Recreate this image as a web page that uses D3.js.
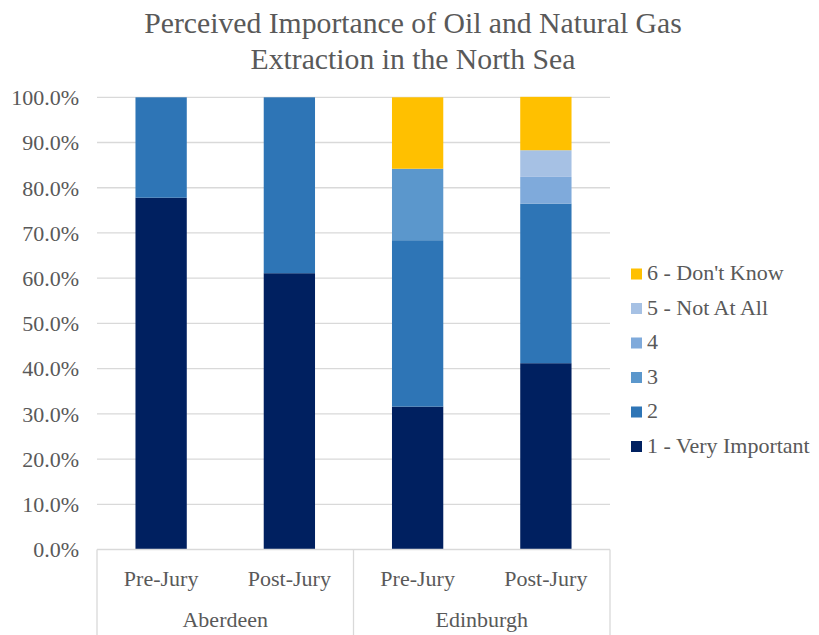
<!DOCTYPE html>
<html><head><meta charset="utf-8">
<script src="https://cdn.jsdelivr.net/npm/d3@7"></script>
<style>body{margin:0;background:#fff}svg{display:block}</style>
</head><body>
<svg id="c" width="819" height="635"></svg>
<script>
const groups = ["Aberdeen","Aberdeen","Edinburgh","Edinburgh"];
const phases = ["Pre-Jury","Post-Jury","Pre-Jury","Post-Jury"];
const seriesNames = ["1 - Very Important","2","3","4","5 - Not At All","6 - Don't Know"];
const s1 = [77.8, 61.1, 31.6, 41.2];
const s2 = [22.2, 38.9, 36.8, 35.3];
const s3 = [0, 0, 15.8, 0];
const s4 = [0, 0, 0, 5.9];
const s5 = [0, 0, 0, 5.9];
const s6 = [0, 0, 15.8, 11.8];
const colors = ["#002060","#2E75B6","#5B97CC","#7FAADB","#A6C1E4","#FFC000"];
const yTicks = [0,10,20,30,40,50,60,70,80,90,100];

const svg = d3.select("#c");
const font = "'Liberation Serif','Times New Roman',serif";
const txt = "#595959";
const L = 97, R = 610, T = 97.3, B = 549.5;

const keys = phases.map((p,i)=>i);
const x = d3.scaleBand().domain(keys).range([L,R]).paddingInner(0.6).paddingOuter(0.3);
const y = d3.scaleLinear().domain([0,100]).range([B,T]);

// gridlines
svg.append("g").selectAll("line").data(yTicks.slice(1)).join("line")
  .attr("x1",L).attr("x2",R).attr("y1",d=>y(d)).attr("y2",d=>y(d))
  .attr("stroke","#d9d9d9").attr("stroke-width",1.3);

// y axis labels
const yAxis = d3.axisLeft(y).tickValues(yTicks).tickFormat(d=>d.toFixed(1)+"%").tickSize(0).tickPadding(18);
const ya = svg.append("g").attr("transform",`translate(${L},0)`).call(yAxis);
ya.select(".domain").remove();
ya.selectAll("text").attr("font-family",font).attr("font-size",22).attr("fill",txt).attr("dy","0.33em");

// stacked data
const all = [s1,s2,s3,s4,s5,s6];
const rows = keys.map(i=>{const o={i}; all.forEach((s,k)=>o[k]=s[i]); return o;});
const stack = d3.stack().keys(d3.range(6))(rows);
svg.append("g").selectAll("g").data(stack).join("g").attr("fill",(d,k)=>colors[k])
  .selectAll("rect").data(d=>d).join("rect")
  .attr("x",d=>x(d.data.i)).attr("width",x.bandwidth())
  .attr("y",d=>y(d[1])).attr("height",d=>Math.max(0,y(d[0])-y(d[1])));

// category axis with boxes
const ax = svg.append("g").attr("stroke","#d9d9d9").attr("stroke-width",1.3);
ax.append("line").attr("x1",L).attr("x2",R).attr("y1",B).attr("y2",B);
const mid = (L+R)/2;
[L, mid, R].forEach(xx=>ax.append("line").attr("x1",xx).attr("x2",xx).attr("y1",B).attr("y2",635));

svg.append("g").selectAll("text").data(keys).join("text")
  .attr("x",d=>x(d)+x.bandwidth()/2).attr("y",586).attr("text-anchor","middle")
  .attr("font-family",font).attr("font-size",22).attr("fill",txt).text(d=>phases[d]);
const gnames = Array.from(new Set(groups));
svg.append("g").selectAll("text").data(gnames).join("text")
  .attr("x",(d,i)=>i===0?(L+mid)/2:(mid+R)/2).attr("y",627).attr("text-anchor","middle")
  .attr("font-family",font).attr("font-size",22).attr("fill",txt).text(d=>d);

// title
const title = svg.append("text").attr("text-anchor","middle").attr("font-family",font)
  .attr("font-size",29.7).attr("fill",txt);
title.append("tspan").attr("x",413).attr("y",33).text("Perceived Importance of Oil and Natural Gas");
title.append("tspan").attr("x",413).attr("y",69).text("Extraction in the North Sea");

// legend
const lg = svg.append("g");
const order = d3.range(6).reverse();
order.forEach((k,j)=>{
  const yy = 274 + j*34.5;
  lg.append("rect").attr("x",631).attr("y",yy-5.5).attr("width",11).attr("height",11).attr("fill",colors[k]);
  lg.append("text").attr("x",647).attr("y",yy+6).attr("font-family",font)
    .attr("font-size",22).attr("fill",txt).text(seriesNames[k]);
});
</script>
</body></html>
